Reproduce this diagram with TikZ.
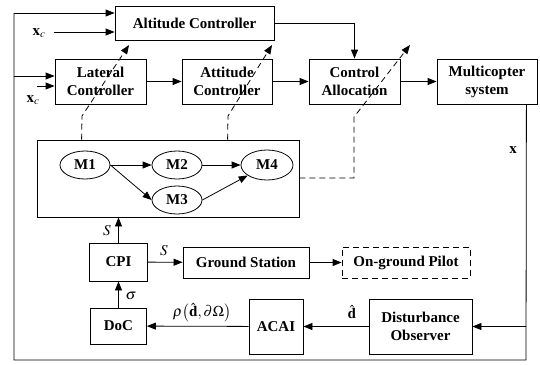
\documentclass[tikz,border=0pt]{standalone}
\usepackage{mathptmx}
\usepackage{fontspec}
\setmainfont{Liberation Serif}
\usetikzlibrary{arrows.meta,shapes.geometric}
\begin{document}
\begin{tikzpicture}[x=1pt,y=-1pt,
  box/.style={draw, line width=0.8pt, align=center, inner sep=0pt,
    font=\fontsize{15}{18}\selectfont\bfseries},
  mod/.style={draw, ellipse, line width=0.8pt, inner sep=0pt,
    minimum width=50pt, minimum height=28pt,
    font=\fontsize{15}{18}\selectfont\bfseries},
  conn/.style={line width=0.8pt, -{Triangle[length=9pt,width=7pt]}},
  wire/.style={line width=0.8pt},
  dsh/.style={line width=0.8pt, dash pattern=on 6pt off 4pt},
  lbl/.style={font=\fontsize{15}{18}\selectfont, inner sep=0pt}
]
\useasboundingbox (0,0) rectangle (540,364);

% top row
\node[box, minimum width=159pt, minimum height=34pt] (alt) at (194.5,23) {Altitude Controller};
\node[box, minimum width=91pt, minimum height=45pt] (lat) at (100.5,81.5) {Lateral\\Controller};
\node[box, minimum width=90pt, minimum height=45pt] (att) at (227,81.5) {Attitude\\Controller};
\node[box, minimum width=91pt, minimum height=45pt] (ca) at (354.5,81.5) {Control\\Allocation};
\node[box, minimum width=100pt, minimum height=45pt] (ms) at (487,81.5) {Multicopter\\system};

% mode box
\node[draw, line width=0.8pt, minimum width=262pt, minimum height=77pt, inner sep=0pt] (mbox) at (168,178.5) {};
\node[mod] (m1) at (85,165) {M1};
\node[mod] (m2) at (177,165) {M2};
\node[mod] (m3) at (177,200) {M3};
\node[mod, minimum width=52pt, minimum height=30pt] (m4) at (267,165) {M4};

% bottom part
\node[box, minimum width=58pt, minimum height=38pt] (cpi) at (118.5,262) {CPI};
\node[box, minimum width=126pt, minimum height=31pt] (gs) at (246,262.5) {Ground Station};
\node[box, dash pattern=on 6pt off 4pt, minimum width=128pt, minimum height=31pt] (ogp) at (406,262.5) {On-ground Pilot};
\node[box, minimum width=56pt, minimum height=36pt] (doc) at (118.5,326) {DoC};
\node[box, minimum width=54pt, minimum height=55pt] (acai) at (276,326.5) {ACAI};
\node[box, minimum width=103pt, minimum height=55pt] (dob) at (420.5,326.5) {Disturbance\\Observer};

% labels
\node[lbl] (xc1) at (39,33) {$\mathbf{x}_c$};
\node[lbl] (xc2) at (33,100) {$\mathbf{x}_c$};
\node[lbl] (xlab) at (513,150) {$\mathbf{x}$};
\node[lbl] (s1) at (107,231) {$S$};
\node[lbl] (s2) at (164,251) {$S$};
\node[lbl] (sig) at (131,296) {$\sigma$};
\node[lbl] (rho) at (202,312.5) {$\rho\bigl(\hat{\mathbf{d}},\partial\Omega\bigr)$};
\node[lbl] (dh) at (352,312) {$\hat{\mathbf{d}}$};

% coordinates
\coordinate (tl) at (14,13);
\coordinate (ml) at (14,76);
\coordinate (bl) at (14,360);
\coordinate (br) at (526,360);
\coordinate (msb) at ([xshift=-11pt]ms.south east);
\coordinate (mr) at (526,326.5);
\coordinate (xc1e) at (54,32);
\coordinate (xc2e) at (37,86);

% feedback loop
\draw[wire] (msb) -- (br) -- (bl) -- (tl);
\draw[conn] (tl) -- (tl -| alt.west);
\draw[conn] (ml) -- (ml -| lat.west);
\draw[conn] (mr) -- (dob.east);
\draw[conn] (xc1e) -- (xc1e -| alt.west);
\draw[conn] (xc2e) -- (xc2e -| lat.west);

% forward path
\draw[conn] (lat) -- (att);
\draw[conn] (att) -- (ca);
\draw[conn] (ca) -- (ms);
\draw[conn] (alt.east) -| (ca.north);

% mode graph
\draw[conn] (m1) -- (m2);
\draw[conn] (m2) -- (m4);
\draw[conn] (m1.east) -- (m3.west);
\draw[conn] (m3.east) -- (m4);

% dashed switching lines
\coordinate (d1a) at ([xshift=45pt]mbox.north west);
\coordinate (d1b) at (82,116);
\coordinate (d1c) at (129,45);
\coordinate (d2a) at ([xshift=191pt]mbox.north west);
\coordinate (d2b) at (228,116);
\coordinate (d2c) at (272,45);
\coordinate (d3a) at (354,178);
\coordinate (d3b) at (354,117);
\coordinate (d3c) at (410,45);
\draw[dsh, -{Triangle[length=9pt,width=7pt]}] (d1a) -- (d1b) -- (d1c);
\draw[dsh, -{Triangle[length=9pt,width=7pt]}] (d2a) -- (d2b) -- (d2c);
\draw[dsh, -{Triangle[length=9pt,width=7pt]}] (mbox.east |- d3a) -- (d3a) -- (d3b) -- (d3c);

% lower path
\draw[conn] (cpi.north) -- (cpi.north |- mbox.south);
\draw[conn] (cpi) -- (gs);
\draw[conn] (gs) -- (ogp);
\draw[conn] (doc) -- (cpi);
\draw[conn] (acai) -- (doc);
\draw[conn] (dob) -- (acai);
\end{tikzpicture}
\end{document}
